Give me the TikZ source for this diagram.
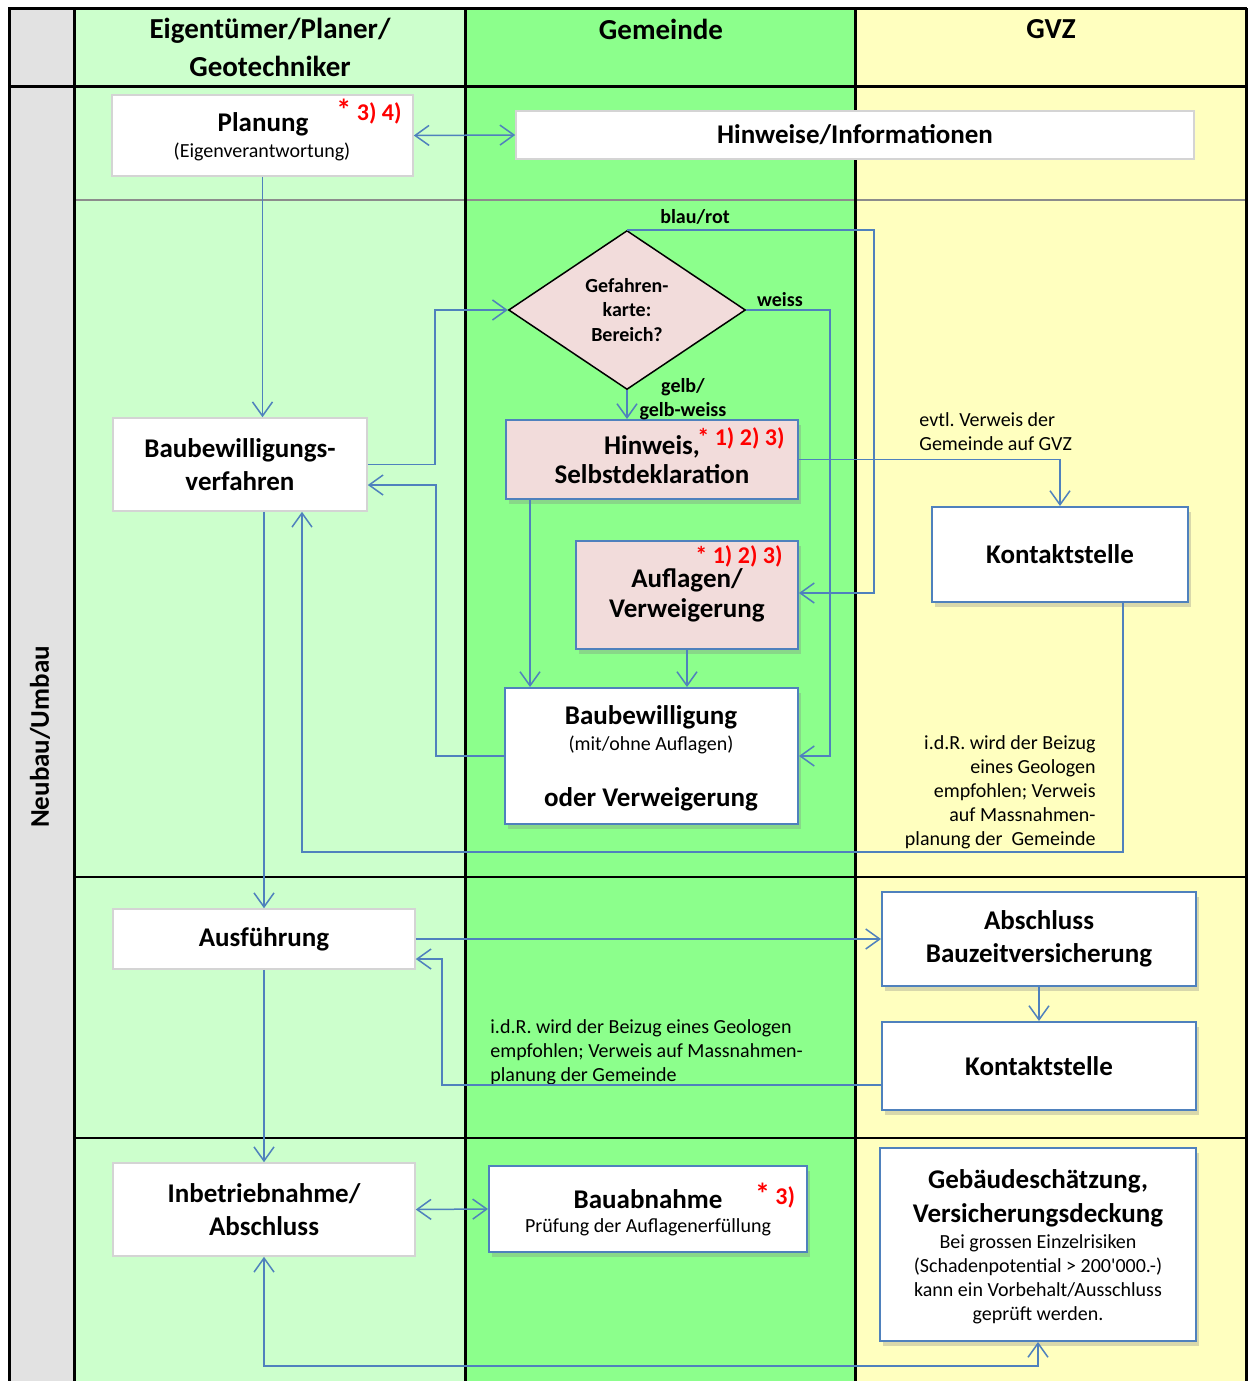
\documentclass[tikz,border=0pt]{standalone}
\usepackage{fontspec}
\setmainfont{Carlito}
\usetikzlibrary{arrows.meta,shapes.geometric,shadows}
\definecolor{lanegrey}{HTML}{E2E2E2}
\definecolor{laneone}{HTML}{CCFFCC}
\definecolor{lanetwo}{HTML}{8CFF8C}
\definecolor{lanethree}{HTML}{FFFFBF}
\definecolor{flowblue}{HTML}{4F81BD}
\definecolor{flowpink}{HTML}{F2DCDB}
\definecolor{boxgrey}{HTML}{D4D4D4}
\newcommand{\flowhead}{\bfseries\fontsize{14.5}{19}\selectfont}
\newcommand{\flowtitle}{\bfseries\fontsize{13.5}{16.5}\selectfont}
\newcommand{\flowsub}{\fontsize{10}{12}\selectfont}
\newcommand{\flowlab}{\bfseries\fontsize{10}{12.25}\selectfont}
\newcommand{\flowred}{\bfseries\fontsize{12}{14}\selectfont\color{red}}
\newcommand{\flowstar}{{\fontsize{15}{14}\selectfont*}}
\frenchspacing

\begin{document}
\begin{tikzpicture}[x=0.5pt, y=-0.5pt,
  >={Straight Barb[length=7pt, width=10pt]},
  boxsize/.style 2 args={minimum width=#1, minimum height=#2},
  greybox/.style={draw=boxgrey, fill=white, line width=0.8pt, font=\flowtitle, align=center, inner sep=0pt},
  bluebox/.style={draw=flowblue, fill=white, line width=1pt, font=\flowtitle, align=center, inner sep=0pt,
    drop shadow={shadow xshift=1.5pt, shadow yshift=-2.5pt, opacity=0.3}},
  pinkbox/.style={bluebox, fill=flowpink},
  ttl/.style={font=\flowtitle, align=center, inner sep=0pt},
  sub/.style={font=\flowsub, align=center, inner sep=0pt},
  conn/.style={draw=flowblue, line width=0.75pt, ->},
  twoway/.style={draw=flowblue, line width=0.75pt, <->},
  lab/.style={font=\flowlab, inner sep=0pt, align=center},
  note/.style={font=\flowsub, inner sep=0pt},
  redmark/.style={font=\flowred, inner sep=0pt}]

  \useasboundingbox (0,0) rectangle (1254,1381);
  \foreach \xa/\xb/\lane in {9/74/lanegrey, 74/465/laneone, 465/855/lanetwo, 855/1246/lanethree} {
    \fill[\lane] (\xa,8) rectangle (\xb,1381);
  }
  \draw[black!45, line width=0.6pt] (74,200) -- (1246,200);
  \foreach \y in {877, 1138} {
    \draw[line width=0.75pt] (74,\y) -- (1246,\y);
  }
  \foreach \x in {9, 74, 465, 855, 1246} {
    \draw[line width=1.5pt] (\x,8) -- (\x,1381);
  }
  \draw[line width=1.5pt] (8,8) -- (1247,8) (9,86) -- (1246,86);

  \node[rotate=90, font=\bfseries\fontsize{13.5}{16}\selectfont] (lane) at (40,737) {Neubau/Umbau};
  \node[font=\flowhead, align=center] (headone) at (270,47) {Eigentümer/Planer/\\Geotechniker};
  \node[font=\flowhead] (headtwo) at (661,29) {Gemeinde};
  \node[font=\flowhead] (headthree) at (1051,29) {GVZ};

  \node[greybox, boxsize={150.5pt}{40.5pt}] (planung) at (262.5,135.5) {};
  \node[ttl] (planungtitle) at (263,124) {Planung};
  \node[sub] (planungsub) at (262,152) {(Eigenverantwortung)};
  \node[redmark] (planungnr) at (369,112) {\flowstar\ 3) 4)};
  \node[greybox, boxsize={339pt}{24pt}] (hinweise) at (855,135) {Hinweise/Informationen};

  \node[diamond, draw=black, fill=flowpink, line width=0.75pt, aspect=1.5, inner sep=0pt,
    minimum width=118.5pt, minimum height=79.5pt, font=\flowlab, align=center] (gefahr) at (627,310)
    {Gefahren-\\karte:\\Bereich?};
  \node[pinkbox, boxsize={146pt}{39.5pt}, font=\bfseries\fontsize{13.5}{14.5}\selectfont] (hinweis) at (652,459.5)
    {Hinweis,\\Selbstdeklaration};
  \node[redmark] (hinweisnr) at (741,438) {* 1) 2) 3)};
  \node[pinkbox, boxsize={111pt}{54pt}, font=\bfseries\fontsize{13.5}{15}\selectfont] (auflagen) at (687,595)
    {Auflagen/\\Verweigerung};
  \node[redmark] (auflagennr) at (739,556) {* 1) 2) 3)};
  \node[bluebox, boxsize={146.5pt}{68pt}] (bewilligung) at (651.5,756) {};
  \node[ttl] (bewilligungtitle) at (651,717) {Baubewilligung};
  \node[sub] (bewilligungsub) at (651,745) {(mit/ohne Auflagen)};
  \node[ttl] (bewilligungalt) at (651,799) {oder Verweigerung};
  \node[greybox, boxsize={127pt}{46.5pt}] (verfahren) at (240,464.5) {Baubewilligungs-\\verfahren};
  \node[bluebox, boxsize={128pt}{47.5pt}] (kontakt) at (1060,554.5) {Kontaktstelle};

  \node[greybox, boxsize={151pt}{30pt}] (ausfuehrung) at (264,939) {Ausführung};
  \node[bluebox, boxsize={157pt}{47pt}] (abschluss) at (1039,939) {Abschluss\\Bauzeitversicherung};
  \node[bluebox, boxsize={157pt}{44pt}] (kontaktb) at (1039,1066) {Kontaktstelle};
  \node[greybox, boxsize={151pt}{46.5pt}] (inbetrieb) at (264,1209.5) {Inbetriebnahme/\\Abschluss};
  \node[bluebox, boxsize={159pt}{43pt}] (bauabnahme) at (648,1209) {};
  \node[ttl] (bauabnahmetitle) at (648,1199) {Bauabnahme};
  \node[sub] (bauabnahmesub) at (648,1227) {Prüfung der Auflagenerfüllung};
  \node[redmark] (bauabnahmenr) at (775,1196) {\flowstar\ 3)};
  \node[bluebox, boxsize={158pt}{96.5pt}] (schaetzung) at (1038,1244.5) {};
  \node[ttl, font=\bfseries\fontsize{13.5}{17}\selectfont] (schaetzungtitle) at (1038,1198)
    {Gebäudeschätzung,\\Versicherungsdeckung};
  \node[sub] (schaetzungsub) at (1038,1279)
    {Bei grossen Einzelrisiken\\(Schadenpotential > 200\textquotesingle 000.-)\\kann ein Vorbehalt/Ausschluss\\geprüft werden.};

  \node[lab] (blaurot) at (695,217) {blau/rot};
  \node[lab] (weiss) at (780,300) {weiss};
  \node[lab] (gelb) at (683,399) {gelb/\\gelb-weiss};
  \node[note, anchor=west, align=left] (verweis) at (919,431.5) {evtl. Verweis der\\Gemeinde auf GVZ};
  \node[note, anchor=east, align=right] (beizug) at (1096,792.5)
    {i.d.R. wird der Beizug\\eines Geologen\\empfohlen; Verweis\\auf Massnahmen-\\planung der\ \ Gemeinde};
  \node[note, anchor=west, align=left] (beizugb) at (490,1052.5)
    {i.d.R. wird der Beizug eines Geologen\\empfohlen; Verweis auf Massnahmen-\\planung der Gemeinde};

  \draw[twoway] (planung.east) -- (hinweise.west);
  \draw[conn] (planung.south) -- (verfahren.north -| planung.south);
  \draw[conn] (verfahren.east) -| (435,310) -- (gefahr.west);
  \draw[conn] (gefahr.south) -- (hinweis.north -| gefahr.south);
  \draw[conn] (gefahr.north) -| (874,593) -- (auflagen.east |- 0,593);
  \draw[conn] (gefahr.east) -| (830,756) -- (bewilligung.east);
  \draw[conn] (hinweis.south -| 530,0) -- (bewilligung.north -| 530,0);
  \draw[conn] (auflagen.south) -- (bewilligung.north -| auflagen.south);
  \draw[conn] (bewilligung.west) -| (436,485) -- (verfahren.east |- 0,485);
  \draw[conn] (hinweis.east) -| (kontakt.north);
  \draw[conn] (kontakt.south -| 1123,0) |- (302,852) -- (verfahren.south -| 302,0);
  \draw[conn] (verfahren.south -| ausfuehrung.north) -- (ausfuehrung.north);
  \draw[conn] (ausfuehrung.east) -- (abschluss.west);
  \draw[conn] (abschluss.south) -- (kontaktb.north);
  \draw[conn] (kontaktb.west |- 0,1085) -| (442,959) -- (ausfuehrung.east |- 0,959);
  \draw[conn] (ausfuehrung.south) -- (inbetrieb.north);
  \draw[twoway] (inbetrieb.east) -- (bauabnahme.west);
  \draw[twoway] (inbetrieb.south) |- (1038,1366) -- (schaetzung.south);
\end{tikzpicture}
\end{document}
